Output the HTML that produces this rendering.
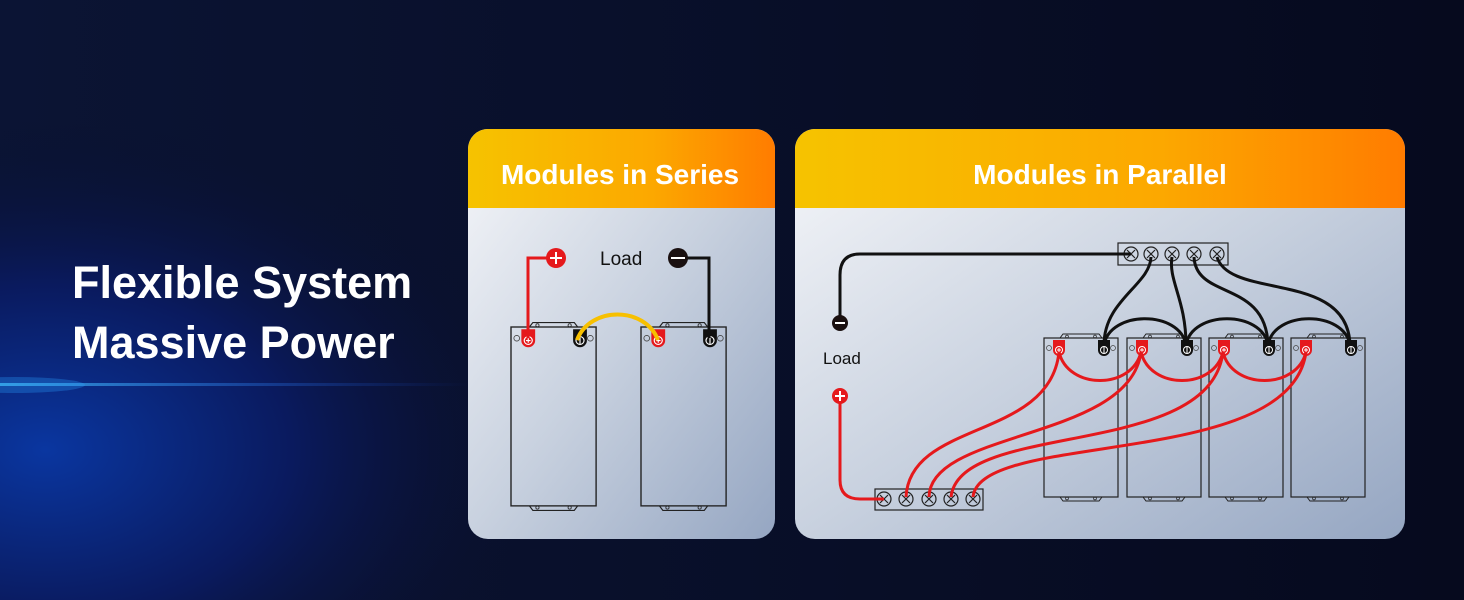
<!DOCTYPE html>
<html><head><meta charset="utf-8"><style>
body{margin:0;width:1464px;height:600px;overflow:hidden;background:#080f2c;font-family:"Liberation Sans",sans-serif}
</style></head><body>
<svg width="1464" height="600" viewBox="0 0 1464 600" xmlns="http://www.w3.org/2000/svg" style="display:block">
<defs>
<radialGradient id="bg1" cx="0.05" cy="0.75" r="0.55">
<stop offset="0" stop-color="#0a36a0"/><stop offset="0.5" stop-color="#0a1a5e"/><stop offset="1" stop-color="#080f2c" stop-opacity="0"/></radialGradient>
<linearGradient id="bgl" x1="0" x2="1"><stop offset="0" stop-color="#0b1434"/><stop offset="1" stop-color="#060a1e"/></linearGradient>
<linearGradient id="hd" x1="0" x2="1"><stop offset="0" stop-color="#f6c300"/><stop offset="0.6" stop-color="#fca800"/><stop offset="1" stop-color="#ff7c00"/></linearGradient>
<linearGradient id="bd" x1="0" y1="0" x2="1" y2="1"><stop offset="0" stop-color="#f6f7fa"/><stop offset="0.5" stop-color="#c8d1df"/><stop offset="1" stop-color="#95a6c2"/></linearGradient>
<linearGradient id="glow" x1="0" x2="1"><stop offset="0" stop-color="#4ad0ff" stop-opacity="0.7"/><stop offset="1" stop-color="#1a50ff" stop-opacity="0"/></linearGradient>
<g id="bat">
<rect x="0" y="0" width="74" height="159" fill="none" stroke="#222" stroke-width="1.2"/>
<path d="M16 0 L19 -4 L55 -4 L58 0 M16 159 L19 163 L55 163 L58 159" fill="none" stroke="#222" stroke-width="1"/>
<circle cx="23" cy="-1.5" r="1.4" fill="none" stroke="#222" stroke-width=".7"/><circle cx="51" cy="-1.5" r="1.4" fill="none" stroke="#222" stroke-width=".7"/>
<circle cx="23" cy="160.5" r="1.4" fill="none" stroke="#222" stroke-width=".7"/><circle cx="51" cy="160.5" r="1.4" fill="none" stroke="#222" stroke-width=".7"/>
<circle cx="5" cy="10" r="2.5" fill="none" stroke="#444" stroke-width=".7"/>
<circle cx="69" cy="10" r="2.5" fill="none" stroke="#444" stroke-width=".7"/>
<path d="M9 2 h12 v10 a6 6 0 0 1 -12 0z" fill="#e5191c"/><circle cx="15" cy="12" r="3.5" fill="none" stroke="#fff" stroke-width="1"/><path d="M13 12h4M15 10v4" stroke="#fff" stroke-width="1"/>
<path d="M54 2 h12 v10 a6 6 0 0 1 -12 0z" fill="#111"/><circle cx="60" cy="12" r="3.5" fill="none" stroke="#fff" stroke-width="1"/><path d="M60 9v6" stroke="#fff" stroke-width="1"/>
</g>
<g id="scr"><circle r="7" fill="none" stroke="#222" stroke-width="1.2"/><path d="M-4 -4L4 4M4 -4L-4 4" stroke="#222" stroke-width="1.2"/></g>
<clipPath id="c1"><rect x="468" y="129" width="307" height="410" rx="20"/></clipPath>
<clipPath id="c2"><rect x="795" y="129" width="610" height="410" rx="20"/></clipPath>
</defs>
<rect width="1464" height="600" fill="url(#bgl)"/>
<rect width="900" height="600" fill="url(#bg1)"/>
<rect x="0" y="383" width="470" height="3" fill="url(#glow)"/>
<ellipse cx="15" cy="385" rx="70" ry="8" fill="#2aa0ff" opacity="0.3"/>
<text x="72" y="298" font-size="45" font-weight="bold" fill="#fff">Flexible System</text>
<text x="72" y="358" font-size="45" font-weight="bold" fill="#fff">Massive Power</text>

<g clip-path="url(#c1)">
<rect x="468" y="129" width="307" height="410" fill="url(#bd)"/>
<rect x="468" y="129" width="307" height="79" fill="url(#hd)"/>
</g>
<text x="620" y="184" font-size="28" font-weight="bold" fill="#fff" text-anchor="middle">Modules in Series</text>
<use href="#bat" transform="translate(511,327) scale(1.15,1.125)"/>
<use href="#bat" transform="translate(641,327) scale(1.15,1.125)"/>
<path d="M528 338 V258 H552" fill="none" stroke="#e5191c" stroke-width="3"/>
<path d="M682 258 H709 V338" fill="none" stroke="#111" stroke-width="3"/>
<path d="M577 340 C590 306 645 306 658 340" fill="none" stroke="#f7c000" stroke-width="4"/>
<circle cx="556" cy="258" r="10" fill="#e5191c"/><path d="M550 258h12M556 252v12" stroke="#fff" stroke-width="2"/>
<circle cx="678" cy="258" r="10" fill="#1a1010"/><path d="M671 258h14" stroke="#fff" stroke-width="2"/>
<text x="600" y="265" font-size="19" fill="#111">Load</text>

<g clip-path="url(#c2)">
<rect x="795" y="129" width="610" height="410" fill="url(#bd)"/>
<rect x="795" y="129" width="610" height="79" fill="url(#hd)"/>
</g>
<text x="1100" y="184" font-size="28" font-weight="bold" fill="#fff" text-anchor="middle">Modules in Parallel</text>
<use href="#bat" transform="translate(1044,338)"/>
<use href="#bat" transform="translate(1127,338)"/>
<use href="#bat" transform="translate(1209,338)"/>
<use href="#bat" transform="translate(1291,338)"/>
<rect x="1118" y="243" width="110" height="22" fill="none" stroke="#222" stroke-width="1.2"/>
<use href="#scr" x="1131" y="254"/><use href="#scr" x="1151" y="254"/><use href="#scr" x="1172" y="254"/><use href="#scr" x="1194" y="254"/><use href="#scr" x="1217" y="254"/>
<rect x="875" y="489" width="108" height="21" fill="none" stroke="#222" stroke-width="1.2"/>
<use href="#scr" x="884" y="499"/><use href="#scr" x="906" y="499"/><use href="#scr" x="929" y="499"/><use href="#scr" x="951" y="499"/><use href="#scr" x="973" y="499"/>
<g fill="none" stroke="#111" stroke-width="3">
<path d="M1131 254 H860 Q840 254 840 275 V318"/>
<path d="M1151 257 C1150 285 1104 300 1104 345"/>
<path d="M1172 257 C1168 280 1186 300 1186 345"/>
<path d="M1194 257 C1196 300 1266 280 1268 345"/>
<path d="M1217 257 C1230 300 1348 270 1350 345"/>
<path d="M1104 345 C1110 310 1180 310 1186 345 C1192 310 1262 310 1268 345 C1274 310 1344 310 1350 345"/>
</g>
<g fill="none" stroke="#e5191c" stroke-width="3">
<path d="M1059 352 C1068 390 1132 390 1141 352 C1150 390 1214 390 1223 352 C1232 390 1297 390 1306 352"/>
<path d="M1059 352 C1050 440 910 420 906 497"/>
<path d="M1141 352 C1130 440 930 430 929 497"/>
<path d="M1223 352 C1210 460 960 420 951 497"/>
<path d="M1306 352 C1290 470 980 430 973 497"/>
<path d="M840 403 V480 Q840 499 860 499 H884"/>
</g>
<circle cx="840" cy="323" r="8" fill="#1a1010"/><path d="M835 323h10" stroke="#fff" stroke-width="2"/>
<circle cx="840" cy="396" r="8" fill="#e5191c"/><path d="M835 396h10M840 391v10" stroke="#fff" stroke-width="2"/>
<text x="823" y="364" font-size="17" fill="#111">Load</text>
</svg>
</body></html>
